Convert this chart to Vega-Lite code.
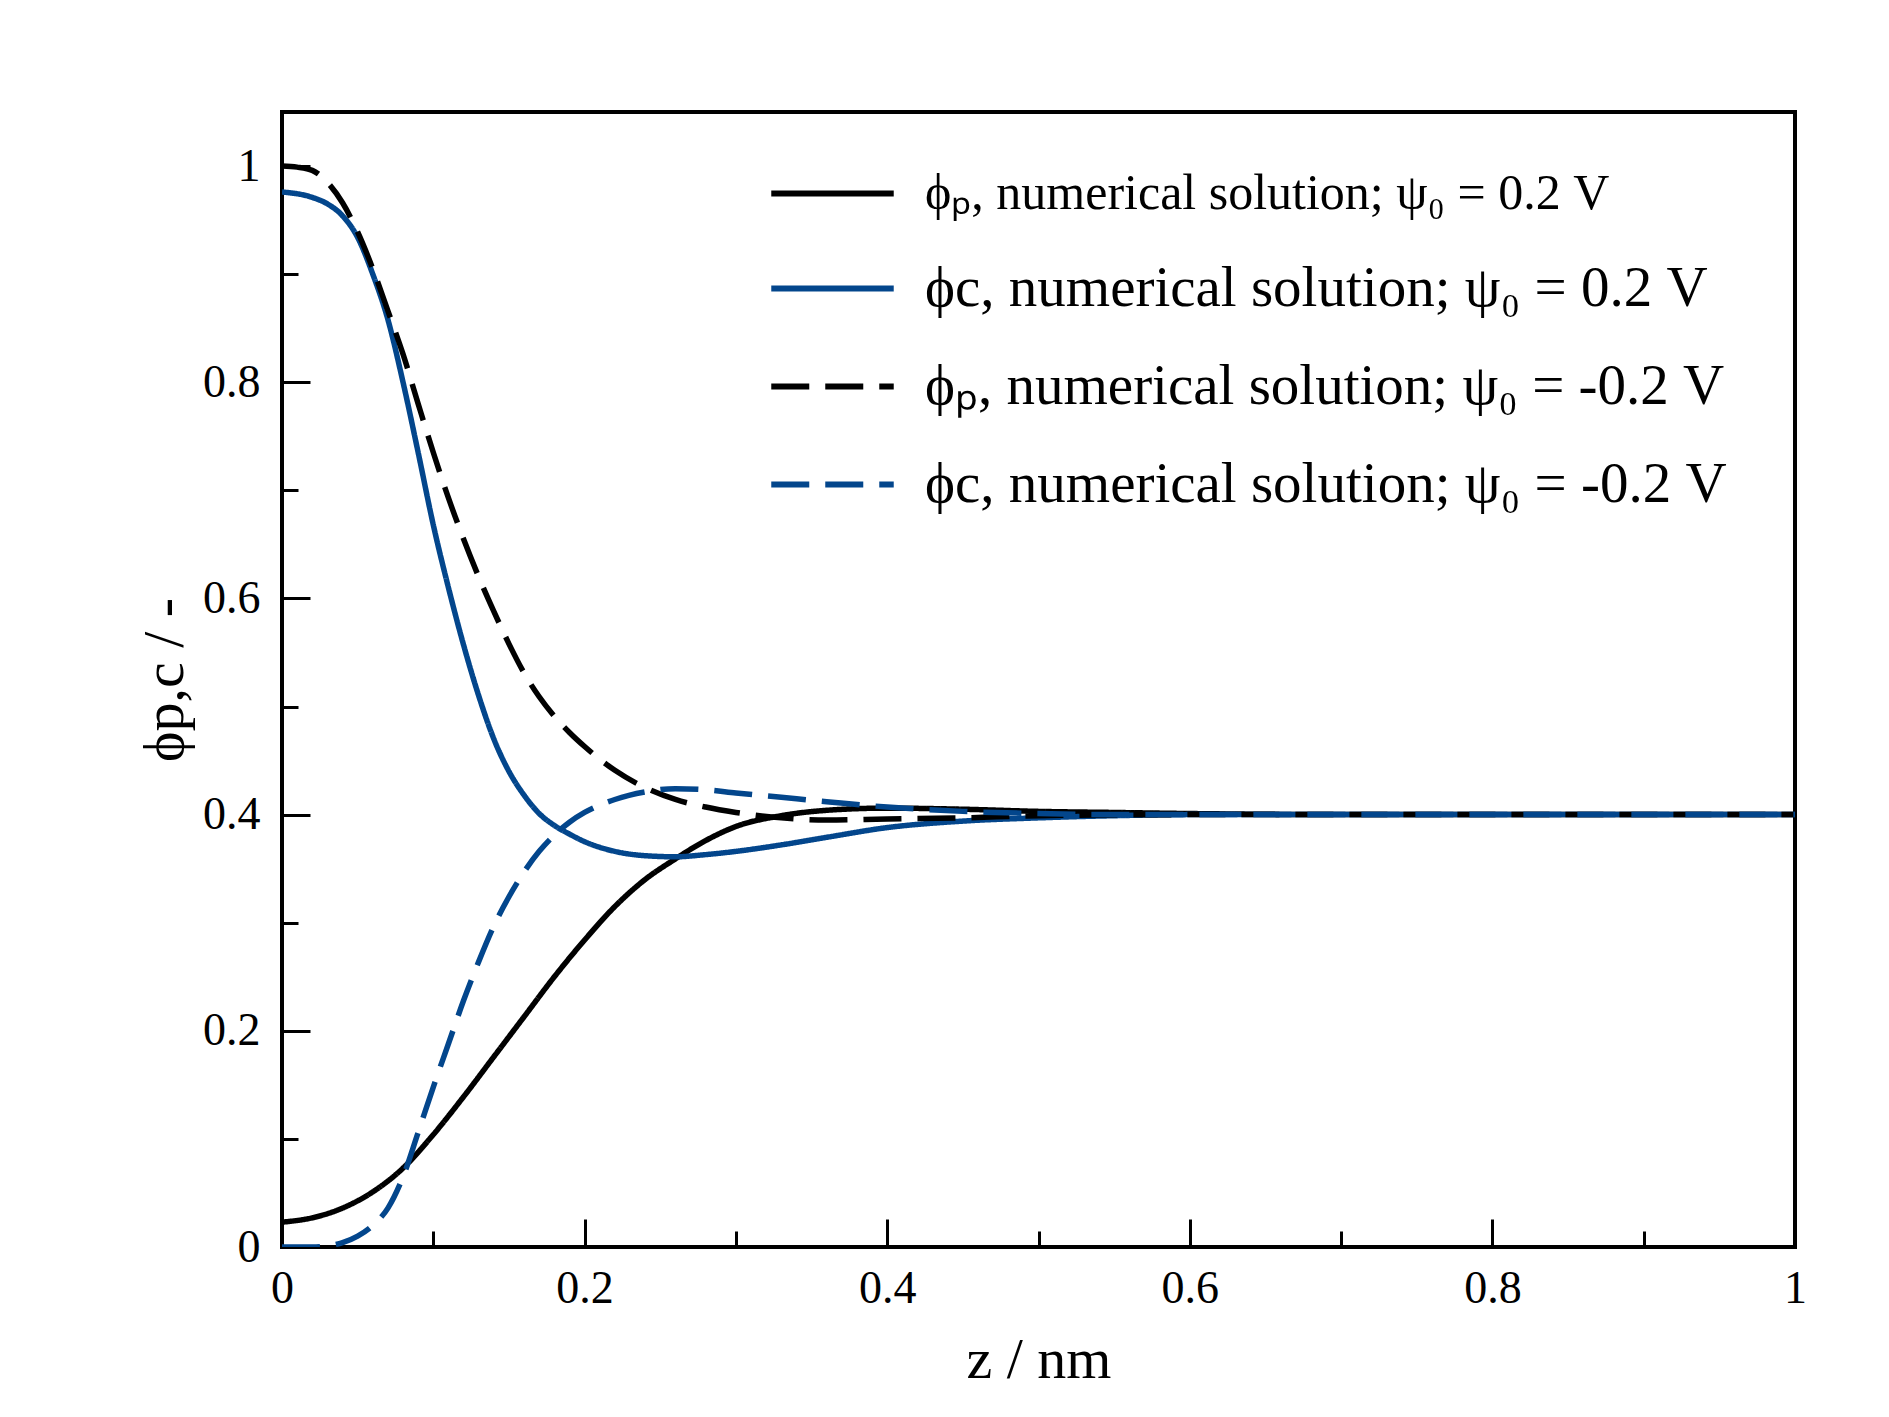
{
  "$schema": "https://vega.github.io/schema/vega-lite/v6.json",
  "width": 1513,
  "height": 1135,
  "autosize": {"type": "none"},
  "padding": {"left": 282, "top": 112, "right": 94, "bottom": 170},
  "background": "white",
  "data": {
    "values": [
      {"s": "A", "z": 0, "phi": 0.023},
      {"s": "A", "z": 0.02, "phi": 0.027},
      {"s": "A", "z": 0.04, "phi": 0.036},
      {"s": "A", "z": 0.06, "phi": 0.051},
      {"s": "A", "z": 0.08, "phi": 0.073},
      {"s": "A", "z": 0.1, "phi": 0.104},
      {"s": "A", "z": 0.12, "phi": 0.139},
      {"s": "A", "z": 0.14, "phi": 0.176},
      {"s": "A", "z": 0.16, "phi": 0.213},
      {"s": "A", "z": 0.18, "phi": 0.25},
      {"s": "A", "z": 0.2, "phi": 0.284},
      {"s": "A", "z": 0.22, "phi": 0.315},
      {"s": "A", "z": 0.24, "phi": 0.34},
      {"s": "A", "z": 0.26, "phi": 0.359},
      {"s": "A", "z": 0.28, "phi": 0.376},
      {"s": "A", "z": 0.3, "phi": 0.389},
      {"s": "A", "z": 0.33, "phi": 0.399},
      {"s": "A", "z": 0.36, "phi": 0.404},
      {"s": "A", "z": 0.4, "phi": 0.406},
      {"s": "A", "z": 0.45, "phi": 0.405},
      {"s": "A", "z": 0.5, "phi": 0.403},
      {"s": "A", "z": 0.55, "phi": 0.402},
      {"s": "A", "z": 0.6, "phi": 0.401},
      {"s": "A", "z": 0.7, "phi": 0.4},
      {"s": "A", "z": 0.85, "phi": 0.4},
      {"s": "A", "z": 1.0, "phi": 0.4},

      {"s": "B", "z": 0, "phi": 0.976},
      {"s": "B", "z": 0.02, "phi": 0.971},
      {"s": "B", "z": 0.03, "phi": 0.965},
      {"s": "B", "z": 0.04, "phi": 0.954},
      {"s": "B", "z": 0.05, "phi": 0.934},
      {"s": "B", "z": 0.06, "phi": 0.9},
      {"s": "B", "z": 0.07, "phi": 0.858},
      {"s": "B", "z": 0.08, "phi": 0.8},
      {"s": "B", "z": 0.09, "phi": 0.735},
      {"s": "B", "z": 0.1, "phi": 0.668},
      {"s": "B", "z": 0.11, "phi": 0.61},
      {"s": "B", "z": 0.12, "phi": 0.557},
      {"s": "B", "z": 0.13, "phi": 0.51},
      {"s": "B", "z": 0.14, "phi": 0.47},
      {"s": "B", "z": 0.15, "phi": 0.44},
      {"s": "B", "z": 0.16, "phi": 0.418},
      {"s": "B", "z": 0.17, "phi": 0.401},
      {"s": "B", "z": 0.18, "phi": 0.39},
      {"s": "B", "z": 0.19, "phi": 0.382},
      {"s": "B", "z": 0.2, "phi": 0.375},
      {"s": "B", "z": 0.22, "phi": 0.366},
      {"s": "B", "z": 0.24, "phi": 0.362},
      {"s": "B", "z": 0.26, "phi": 0.361},
      {"s": "B", "z": 0.28, "phi": 0.363},
      {"s": "B", "z": 0.3, "phi": 0.366},
      {"s": "B", "z": 0.33, "phi": 0.372},
      {"s": "B", "z": 0.36, "phi": 0.379},
      {"s": "B", "z": 0.4, "phi": 0.388},
      {"s": "B", "z": 0.45, "phi": 0.394},
      {"s": "B", "z": 0.5, "phi": 0.397},
      {"s": "B", "z": 0.55, "phi": 0.399},
      {"s": "B", "z": 0.6, "phi": 0.4},
      {"s": "B", "z": 0.7, "phi": 0.4},
      {"s": "B", "z": 0.85, "phi": 0.4},
      {"s": "B", "z": 1.0, "phi": 0.4},

      {"s": "C", "z": 0, "phi": 1.0},
      {"s": "C", "z": 0.01, "phi": 0.999},
      {"s": "C", "z": 0.02, "phi": 0.996},
      {"s": "C", "z": 0.03, "phi": 0.985},
      {"s": "C", "z": 0.04, "phi": 0.966},
      {"s": "C", "z": 0.05, "phi": 0.939},
      {"s": "C", "z": 0.06, "phi": 0.905},
      {"s": "C", "z": 0.07, "phi": 0.866},
      {"s": "C", "z": 0.08, "phi": 0.826},
      {"s": "C", "z": 0.09, "phi": 0.78},
      {"s": "C", "z": 0.1, "phi": 0.735},
      {"s": "C", "z": 0.11, "phi": 0.693},
      {"s": "C", "z": 0.12, "phi": 0.655},
      {"s": "C", "z": 0.13, "phi": 0.62},
      {"s": "C", "z": 0.14, "phi": 0.588},
      {"s": "C", "z": 0.15, "phi": 0.558},
      {"s": "C", "z": 0.16, "phi": 0.531},
      {"s": "C", "z": 0.17, "phi": 0.509},
      {"s": "C", "z": 0.18, "phi": 0.491},
      {"s": "C", "z": 0.19, "phi": 0.476},
      {"s": "C", "z": 0.2, "phi": 0.463},
      {"s": "C", "z": 0.22, "phi": 0.441},
      {"s": "C", "z": 0.24, "phi": 0.425},
      {"s": "C", "z": 0.26, "phi": 0.414},
      {"s": "C", "z": 0.28, "phi": 0.407},
      {"s": "C", "z": 0.3, "phi": 0.402},
      {"s": "C", "z": 0.33, "phi": 0.397},
      {"s": "C", "z": 0.36, "phi": 0.395},
      {"s": "C", "z": 0.4, "phi": 0.396},
      {"s": "C", "z": 0.45, "phi": 0.397},
      {"s": "C", "z": 0.5, "phi": 0.399},
      {"s": "C", "z": 0.6, "phi": 0.4},
      {"s": "C", "z": 0.7, "phi": 0.4},
      {"s": "C", "z": 0.85, "phi": 0.4},
      {"s": "C", "z": 1.0, "phi": 0.4},

      {"s": "D", "z": 0, "phi": 0},
      {"s": "D", "z": 0.02, "phi": 0},
      {"s": "D", "z": 0.03, "phi": 0.001},
      {"s": "D", "z": 0.04, "phi": 0.004},
      {"s": "D", "z": 0.05, "phi": 0.01},
      {"s": "D", "z": 0.06, "phi": 0.02},
      {"s": "D", "z": 0.07, "phi": 0.036},
      {"s": "D", "z": 0.08, "phi": 0.065},
      {"s": "D", "z": 0.09, "phi": 0.106},
      {"s": "D", "z": 0.1, "phi": 0.148},
      {"s": "D", "z": 0.11, "phi": 0.188},
      {"s": "D", "z": 0.12, "phi": 0.228},
      {"s": "D", "z": 0.13, "phi": 0.264},
      {"s": "D", "z": 0.14, "phi": 0.297},
      {"s": "D", "z": 0.15, "phi": 0.324},
      {"s": "D", "z": 0.16, "phi": 0.347},
      {"s": "D", "z": 0.17, "phi": 0.366},
      {"s": "D", "z": 0.18, "phi": 0.381},
      {"s": "D", "z": 0.19, "phi": 0.393},
      {"s": "D", "z": 0.2, "phi": 0.402},
      {"s": "D", "z": 0.22, "phi": 0.414},
      {"s": "D", "z": 0.24, "phi": 0.421},
      {"s": "D", "z": 0.26, "phi": 0.424},
      {"s": "D", "z": 0.28, "phi": 0.423},
      {"s": "D", "z": 0.3, "phi": 0.42},
      {"s": "D", "z": 0.33, "phi": 0.416},
      {"s": "D", "z": 0.36, "phi": 0.412},
      {"s": "D", "z": 0.4, "phi": 0.407},
      {"s": "D", "z": 0.45, "phi": 0.403},
      {"s": "D", "z": 0.5, "phi": 0.401},
      {"s": "D", "z": 0.55, "phi": 0.4},
      {"s": "D", "z": 0.6, "phi": 0.4},
      {"s": "D", "z": 0.7, "phi": 0.4},
      {"s": "D", "z": 0.85, "phi": 0.4},
      {"s": "D", "z": 1.0, "phi": 0.4}
    ]
  },
  "mark": {"type": "line", "interpolate": "monotone", "strokeWidth": 5.5, "clip": true},
  "encoding": {
    "x": {
      "field": "z",
      "type": "quantitative",
      "scale": {"domain": [0, 1], "nice": false, "zero": false},
      "axis": {
        "title": "z / nm",
        "values": [0, 0.1, 0.2, 0.3, 0.4, 0.5, 0.6, 0.7, 0.8, 0.9, 1],
        "labelExpr": "round(datum.value * 10) % 2 == 0 ? (datum.value == 0 ? '0' : datum.value == 1 ? '1' : format(datum.value, '.1f')) : ''",
        "tickSize": {"condition": {"test": "round(datum.value * 10) % 2 == 0", "value": -28}, "value": -16},
        "labelPadding": 47,
        "titlePadding": 8,
        "labelFlush": false
      }
    },
    "y": {
      "field": "phi",
      "type": "quantitative",
      "scale": {"domain": [0, 1.05], "nice": false, "zero": false},
      "axis": {
        "title": "ϕp,c / -",
        "values": [0, 0.1, 0.2, 0.3, 0.4, 0.5, 0.6, 0.7, 0.8, 0.9, 1],
        "labelExpr": "round(datum.value * 10) % 2 == 0 ? (datum.value == 0 ? '0' : datum.value == 1 ? '1' : format(datum.value, '.1f')) : ''",
        "tickSize": {"condition": {"test": "round(datum.value * 10) % 2 == 0", "value": -28}, "value": -16},
        "labelPadding": 50,
        "titlePadding": 8
      }
    },
    "color": {
      "field": "s",
      "type": "nominal",
      "scale": {"domain": ["A", "B", "C", "D"], "range": ["#000000", "#03468c", "#000000", "#03468c"]},
      "legend": {
        "title": null,
        "labelExpr": "datum.value == 'A' ? 'ϕₚ, numerical solution; ψ₀ = 0.2 V' : datum.value == 'B' ? 'ϕc, numerical solution; ψ₀ = 0.2 V' : datum.value == 'C' ? 'ϕₚ, numerical solution; ψ₀ = -0.2 V' : 'ϕc, numerical solution; ψ₀ = -0.2 V'",
        "encode": {"labels": {"update": {"fontSize": {"signal": "datum.index == 0 ? 50 : 57"}}}}
      }
    },
    "strokeDash": {
      "field": "s",
      "type": "nominal",
      "scale": {"domain": ["A", "B", "C", "D"], "range": [[1, 0], [1, 0], [38, 16], [38, 16]]},
      "legend": {
        "title": null,
        "labelExpr": "datum.value == 'A' ? 'ϕₚ, numerical solution; ψ₀ = 0.2 V' : datum.value == 'B' ? 'ϕc, numerical solution; ψ₀ = 0.2 V' : datum.value == 'C' ? 'ϕₚ, numerical solution; ψ₀ = -0.2 V' : 'ϕc, numerical solution; ψ₀ = -0.2 V'",
        "encode": {"labels": {"update": {"fontSize": {"signal": "datum.index == 0 ? 50 : 57"}}}}
      }
    }
  },
  "config": {
    "font": "Liberation Serif",
    "view": {"stroke": "black", "strokeWidth": 4},
    "axis": {
      "domain": false,
      "grid": false,
      "ticks": true,
      "tickColor": "black",
      "tickWidth": 3,
      "labelFont": "Liberation Serif",
      "labelFontSize": 46,
      "labelColor": "black",
      "labelOverlap": false,
      "titleFont": "Liberation Serif",
      "titleFontSize": 58,
      "titleFontWeight": "normal",
      "titleColor": "black"
    },
    "legend": {
      "orient": "none",
      "legendX": 486,
      "legendY": 17,
      "padding": 0,
      "symbolType": "stroke",
      "symbolSize": 15000,
      "symbolStrokeWidth": 6,
      "labelFont": "Liberation Serif",
      "labelFontSize": 57,
      "labelColor": "black",
      "labelLimit": 0,
      "labelOffset": 28,
      "rowPadding": 5
    }
  }
}
